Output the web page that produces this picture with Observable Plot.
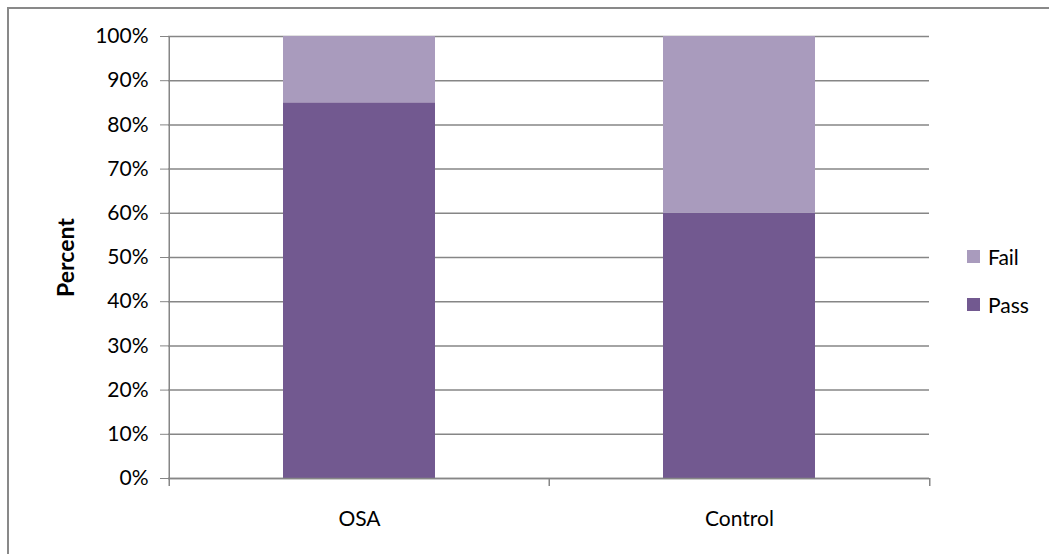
<!DOCTYPE html>
<html>
<head>
<meta charset="utf-8">
<script src="https://cdn.jsdelivr.net/npm/d3@7"></script>
<script src="https://cdn.jsdelivr.net/npm/@observablehq/plot@0.6"></script>
<style>
  html, body { margin: 0; padding: 0; background: #fff; }
  #wrap { position: relative; width: 1049px; height: 554px; overflow: hidden; font-family: Lato, "Open Sans", sans-serif; }
  #frame { position: absolute; left: 7px; top: 7px; width: 1100px; height: 600px; border: 2px solid #898989; box-sizing: border-box; }
  #chart { position: absolute; left: 0; top: 0; }
  #chart svg { overflow: visible; }
  g[aria-label="y-axis label"] text { font-weight: bold; font-size: 23px; }
  .legend { position: absolute; left: 967px; font-size: 21px; color: #000; display: flex; align-items: center; }
  .legend span.sw { display: inline-block; width: 13px; height: 13px; margin-right: 8px; }
</style>
</head>
<body>
<div id="wrap">
  <div id="frame"></div>
  <div id="chart"></div>
</div>
<script>
const categories = ["OSA", "Control"];
const series = ["Pass", "Fail"];
const passValues = [0.85, 0.60];
const failValues = [0.15, 0.40];
const seriesColors = ["#725990", "#A99BBD"];
const yTicks = [0, 0.1, 0.2, 0.3, 0.4, 0.5, 0.6, 0.7, 0.8, 0.9, 1.0];

const data = [];
categories.forEach((c, i) => {
  data.push({category: c, series: "Pass", value: passValues[i]});
  data.push({category: c, series: "Fail", value: failValues[i]});
});

const W = 1049, H = 554;
const mL = 168, mR = 120, mT = 36, mB = 76;
const step = (W - mL - mR) / categories.length;
const gridColor = "#868686";

const chart = Plot.plot({
  width: W,
  height: H,
  marginLeft: mL,
  marginRight: mR,
  marginTop: mT,
  marginBottom: mB,
  style: {fontFamily: "Lato, 'Open Sans', sans-serif", fontSize: "21px", color: "#000", background: "transparent"},
  x: {domain: categories, paddingInner: 0.6, paddingOuter: 0.3, label: null},
  y: {domain: [0, 1], ticks: yTicks, tickFormat: d3.format(".0%"), label: "Percent"},
  color: {domain: series, range: seriesColors},
  marks: [
    Plot.ruleY(yTicks, {stroke: gridColor, strokeWidth: 1.5}),
    Plot.barY(data, {x: "category", y: "value", fill: "series", order: series}),
    Plot.ruleY([0], {stroke: gridColor, strokeWidth: 1.5}),
    Plot.ruleX([categories[0]], {x: d => d, dx: -step / 2, stroke: gridColor, strokeWidth: 1.5}),
    Plot.ruleX(categories, {x: d => d, y1: 0, y2: 0, dx: -step / 2, insetBottom: -8, stroke: gridColor, strokeWidth: 1.5}),
    Plot.ruleX([categories[categories.length - 1]], {x: d => d, y1: 0, y2: 0, dx: step / 2, insetBottom: -8, stroke: gridColor, strokeWidth: 1.5}),
    Plot.axisY({ticks: yTicks, tickFormat: d3.format(".0%"), tickSize: 8, tickPadding: 12, stroke: gridColor, label: "Percent", labelAnchor: "center", labelOffset: 111, labelArrow: false, fontSize: 21}),
    Plot.axisX({tickSize: 0, tickPadding: 33, label: null, fontSize: 21})
  ]
});
document.getElementById("chart").appendChild(chart);

const wrap = document.getElementById("wrap");
const legendTops = {"Fail": 244, "Pass": 292};
series.slice().reverse().forEach((s) => {
  const el = document.createElement("div");
  el.className = "legend";
  el.style.top = legendTops[s] + "px";
  el.innerHTML = `<span class="sw" style="background:${seriesColors[series.indexOf(s)]}"></span>${s}`;
  wrap.appendChild(el);
});
</script>
</body>
</html>
